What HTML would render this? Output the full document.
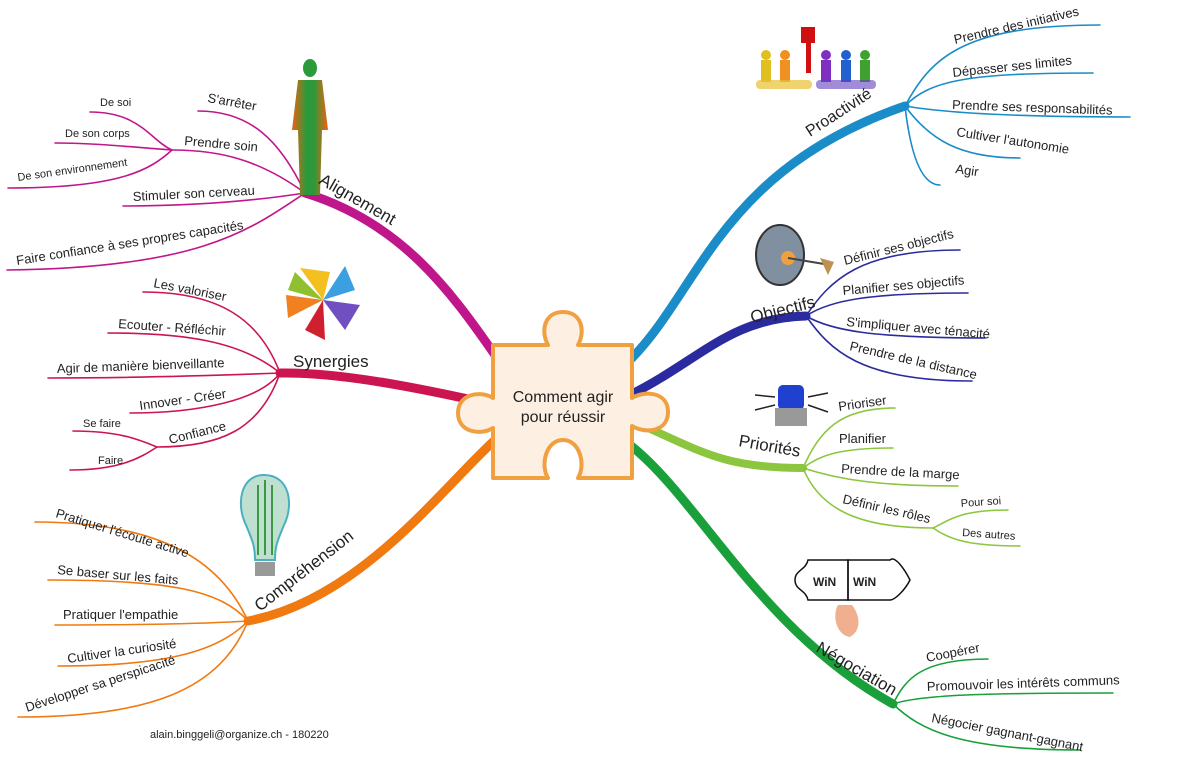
<!DOCTYPE html>
<html><head><meta charset="utf-8"><style>
html,body{margin:0;padding:0;background:#fff;width:1200px;height:763px;overflow:hidden}
svg text{font-family:"Liberation Sans",sans-serif;fill:#222}
.s{font-size:13px}.xs{font-size:11px}.m{font-size:17px}
</style></head><body>
<svg width="1200" height="763" viewBox="0 0 1200 763" xmlns="http://www.w3.org/2000/svg">
<defs>
<linearGradient id="hg" x1="0" x2="1"><stop offset="0" stop-color="#f06010"/><stop offset="0.4" stop-color="#2a9a3a"/><stop offset="0.6" stop-color="#2a9a3a"/><stop offset="1" stop-color="#f06010"/></linearGradient>
</defs>
<g fill="none" stroke-linecap="round">
<path d="M495,355 C450,290 400,222 305,193" stroke="#c0168c" stroke-width="9"/>
<path d="M495,405 C420,388 340,372 280,373" stroke="#cc1450" stroke-width="9"/>
<path d="M495,440 C440,490 360,600 248,621" stroke="#f07a10" stroke-width="9"/>
<path d="M630,360 C700,290 720,170 905,106" stroke="#1a8cc8" stroke-width="9"/>
<path d="M630,395 C700,360 730,318 806,316" stroke="#2b2ba0" stroke-width="9"/>
<path d="M630,420 C700,450 720,468 803,468" stroke="#8cc63e" stroke-width="8"/>
<path d="M630,445 C700,500 760,630 893,704" stroke="#1aa03a" stroke-width="9"/>
<g stroke="#c0168c" stroke-width="1.6">
<path d="M305,193 C280,140 250,111 198,111"/>
<path d="M305,193 C260,160 220,150 172,150"/>
<path d="M172,150 C150,140 140,112 90,112"/>
<path d="M172,150 C140,148 100,143 55,143"/>
<path d="M172,150 C150,170 120,188 8,188"/>
<path d="M305,193 C260,200 200,206 123,206"/>
<path d="M305,193 C250,230 200,268 7,270"/>
</g>
<g stroke="#cc1450" stroke-width="1.6">
<path d="M280,373 C260,320 220,292 143,292"/>
<path d="M280,373 C240,340 180,333 108,333"/>
<path d="M280,373 C200,376 120,378 48,378"/>
<path d="M280,373 C260,400 200,413 130,413"/>
<path d="M280,373 C260,430 220,447 157,447"/>
<path d="M157,447 C140,440 120,431 73,431"/>
<path d="M157,447 C140,458 120,470 70,470"/>
</g>
<g stroke="#f07a10" stroke-width="1.6">
<path d="M248,621 C220,560 160,522 35,522"/>
<path d="M248,621 C220,590 170,580 48,580"/>
<path d="M248,621 C200,624 120,625 55,625"/>
<path d="M248,621 C220,650 170,666 58,666"/>
<path d="M248,621 C220,690 150,717 18,717"/>
</g>
<g stroke="#1a8cc8" stroke-width="1.6">
<path d="M905,106 C930,60 960,25 1100,25"/>
<path d="M905,106 C930,80 970,73 1093,73"/>
<path d="M905,106 C940,112 1000,117 1130,117"/>
<path d="M905,106 C930,140 960,158 1020,158"/>
<path d="M905,106 C910,150 920,185 940,185"/>
</g>
<g stroke="#2b2ba0" stroke-width="1.6">
<path d="M806,316 C830,280 860,250 960,250"/>
<path d="M806,316 C830,300 870,293 968,293"/>
<path d="M806,316 C830,330 870,338 985,338"/>
<path d="M806,316 C830,350 860,381 972,381"/>
</g>
<g stroke="#8cc63e" stroke-width="1.6">
<path d="M803,468 C820,430 840,408 895,408"/>
<path d="M803,468 C820,455 840,448 893,448"/>
<path d="M803,468 C840,480 880,486 958,486"/>
<path d="M803,468 C820,510 860,528 933,528"/>
<path d="M933,528 C950,520 960,510 1008,510"/>
<path d="M933,528 C950,540 970,546 1020,546"/>
</g>
<g stroke="#1aa03a" stroke-width="1.6">
<path d="M893,704 C905,680 920,659 988,659"/>
<path d="M893,704 C920,695 980,693 1113,693"/>
<path d="M893,704 C920,730 960,750 1080,750"/>
</g>
</g>
<path d="M493,345 L548,345 C540,330 545,312 563,312 C581,312 586,330 578,345 L632,345 L632,398 C645,390 668,392 668,412 C668,432 645,434 632,426 L632,478 L578,478 C586,465 580,440 563,440 C546,440 540,465 548,478 L493,478 L493,428 C480,436 458,432 458,413 C458,394 480,390 493,398 Z" fill="#fdf0e2" stroke="#f0a040" stroke-width="4" stroke-linejoin="round"/>
<text x="563" y="402" text-anchor="middle" style="font-size:16px">Comment agir</text>
<text x="563" y="422" text-anchor="middle" style="font-size:16px">pour réussir</text>
<g>
<ellipse cx="310" cy="68" rx="7" ry="9" fill="#2a9a3a"/>
<path d="M298,80 L322,80 L328,130 L322,130 L320,195 L300,195 L298,130 L292,130 Z" fill="url(#hg)"/>
</g>
<g>
<path d="M323,300 L300,268 L330,272Z" fill="#f4c020"/>
<path d="M323,300 L345,266 L355,290Z" fill="#3aa0e0"/>
<path d="M323,300 L360,305 L345,330Z" fill="#7050c0"/>
<path d="M323,300 L325,340 L305,330Z" fill="#d02030"/>
<path d="M323,300 L288,318 L286,295Z" fill="#f08020"/>
<path d="M323,300 L295,272 L288,290Z" fill="#90c030"/>
</g>
<g>
<path d="M264,475 C240,475 236,505 246,525 C252,540 255,545 255,560 L275,560 C275,545 278,540 284,525 C294,505 290,475 264,475Z" fill="#bfe0d0" stroke="#4ab0c0" stroke-width="2"/>
<path d="M258,485 L258,555 M265,480 L265,555 M272,485 L272,555" stroke="#3a9a40" stroke-width="2"/>
<rect x="255" y="562" width="20" height="14" fill="#999"/>
</g>
<g>
<rect x="801" y="27" width="14" height="16" fill="#d01010"/><rect x="806" y="43" width="5" height="30" fill="#d01010"/>
<g fill="#e0c020"><circle cx="766" cy="55" r="5"/><rect x="761" y="60" width="10" height="22"/></g>
<g fill="#f09020"><circle cx="785" cy="55" r="5"/><rect x="780" y="60" width="10" height="22"/></g>
<g fill="#8030c0"><circle cx="826" cy="55" r="5"/><rect x="821" y="60" width="10" height="22"/></g>
<g fill="#2060d0"><circle cx="846" cy="55" r="5"/><rect x="841" y="60" width="10" height="22"/></g>
<g fill="#40a030"><circle cx="865" cy="55" r="5"/><rect x="860" y="60" width="10" height="22"/></g>
<rect x="756" y="80" width="56" height="9" rx="4" fill="#e8c030" opacity=".7"/>
<rect x="816" y="80" width="60" height="9" rx="4" fill="#6040c0" opacity=".6"/>
</g>
<g>
<ellipse cx="780" cy="255" rx="24" ry="30" fill="#8090a0" stroke="#333" stroke-width="2"/>
<circle cx="788" cy="258" r="7" fill="#f0a040"/>
<path d="M788,258 L830,265" stroke="#444" stroke-width="2"/><path d="M820,258 L834,262 L828,275Z" fill="#c09050"/>
</g>
<g>
<rect x="778" y="385" width="26" height="25" rx="5" fill="#2040d0"/><rect x="775" y="408" width="32" height="18" fill="#999"/>
<path d="M755,395 L775,397 M755,410 L775,405 M808,397 L828,393 M808,405 L828,412" stroke="#222" stroke-width="1.5"/>
</g>
<g fill="none" stroke="#111" stroke-width="1.5">
<path d="M808,560 L848,560 L848,600 L808,600 C806,590 795,590 795,580 C795,570 806,570 808,560Z"/>
<path d="M848,560 L890,560 C895,555 905,570 910,580 C905,590 895,600 890,600 L848,600Z"/>
<text x="813" y="586" style="font-size:12px;font-weight:bold" stroke="none">WiN</text>
<text x="853" y="586" style="font-size:12px;font-weight:bold" stroke="none">WiN</text>
</g>
<path d="M838,605 C832,615 836,635 850,637 C862,630 860,615 852,605Z" fill="#f0b090"/>
<text class="m" transform="translate(318,183) rotate(30)">Alignement</text>
<text class="m" x="293" y="367">Synergies</text>
<text class="m" transform="translate(260,612) rotate(-38)">Compréhension</text>
<text class="m" transform="translate(810,137) rotate(-33)" style="font-size:16px">Proactivité</text>
<text class="m" transform="translate(752,323) rotate(-14)">Objectifs</text>
<text class="m" transform="translate(738,446) rotate(10)">Priorités</text>
<text class="m" transform="translate(815,651) rotate(30)">Négociation</text>

<text class="s" transform="translate(207,102) rotate(10)">S'arrêter</text>
<text class="s" transform="translate(184,145) rotate(5)">Prendre soin</text>
<text class="xs" x="100" y="106">De soi</text>
<text class="xs" x="65" y="137">De son corps</text>
<text class="xs" transform="translate(18,181) rotate(-8)">De son environnement</text>
<text class="s" transform="translate(133,201) rotate(-3)">Stimuler son cerveau</text>
<text class="s" transform="translate(17,265) rotate(-9)">Faire confiance à ses propres capacités</text>
<text class="s" transform="translate(153,287) rotate(11)">Les valoriser</text>
<text class="s" transform="translate(118,328) rotate(4)">Ecouter - Réfléchir</text>
<text class="s" transform="translate(57,373) rotate(-2)">Agir de manière bienveillante</text>
<text class="s" transform="translate(140,410) rotate(-8)">Innover - Créer</text>
<text class="s" transform="translate(170,444) rotate(-14)">Confiance</text>
<text class="xs" x="83" y="427">Se faire</text>
<text class="xs" x="98" y="464">Faire</text>
<text class="s" transform="translate(55,517) rotate(17)">Pratiquer l'écoute active</text>
<text class="s" transform="translate(57,574) rotate(5)">Se baser sur les faits</text>
<text class="s" x="63" y="619">Pratiquer l'empathie</text>
<text class="s" transform="translate(68,663) rotate(-8)">Cultiver la curiosité</text>
<text class="s" transform="translate(27,712) rotate(-18)">Développer sa perspicacité</text>
<text class="xs" x="150" y="738">alain.binggeli@organize.ch - 180220</text>

<text class="s" transform="translate(955,44) rotate(-13)">Prendre des initiatives</text>
<text class="s" transform="translate(953,77) rotate(-6)">Dépasser ses limites</text>
<text class="s" transform="translate(952,109) rotate(2)">Prendre ses responsabilités</text>
<text class="s" transform="translate(956,136) rotate(9)">Cultiver l'autonomie</text>
<text class="s" transform="translate(955,173) rotate(8)">Agir</text>
<text class="s" transform="translate(845,265) rotate(-14)">Définir ses objectifs</text>
<text class="s" transform="translate(843,295) rotate(-5)">Planifier ses objectifs</text>
<text class="s" transform="translate(846,326) rotate(5)">S'impliquer avec ténacité</text>
<text class="s" transform="translate(849,350) rotate(13)">Prendre de la distance</text>
<text class="s" transform="translate(839,411) rotate(-8)">Prioriser</text>
<text class="s" x="839" y="443">Planifier</text>
<text class="s" transform="translate(841,473) rotate(3)">Prendre de la marge</text>
<text class="s" transform="translate(842,503) rotate(13)">Définir les rôles</text>
<text class="xs" transform="translate(961,507) rotate(-4)">Pour soi</text>
<text class="xs" transform="translate(962,536) rotate(4)">Des autres</text>
<text class="s" transform="translate(927,662) rotate(-11)">Coopérer</text>
<text class="s" transform="translate(927,691) rotate(-2)">Promouvoir les intérêts communs</text>
<text class="s" transform="translate(931,722) rotate(11)">Négocier gagnant-gagnant</text>
</svg>
</body></html>
